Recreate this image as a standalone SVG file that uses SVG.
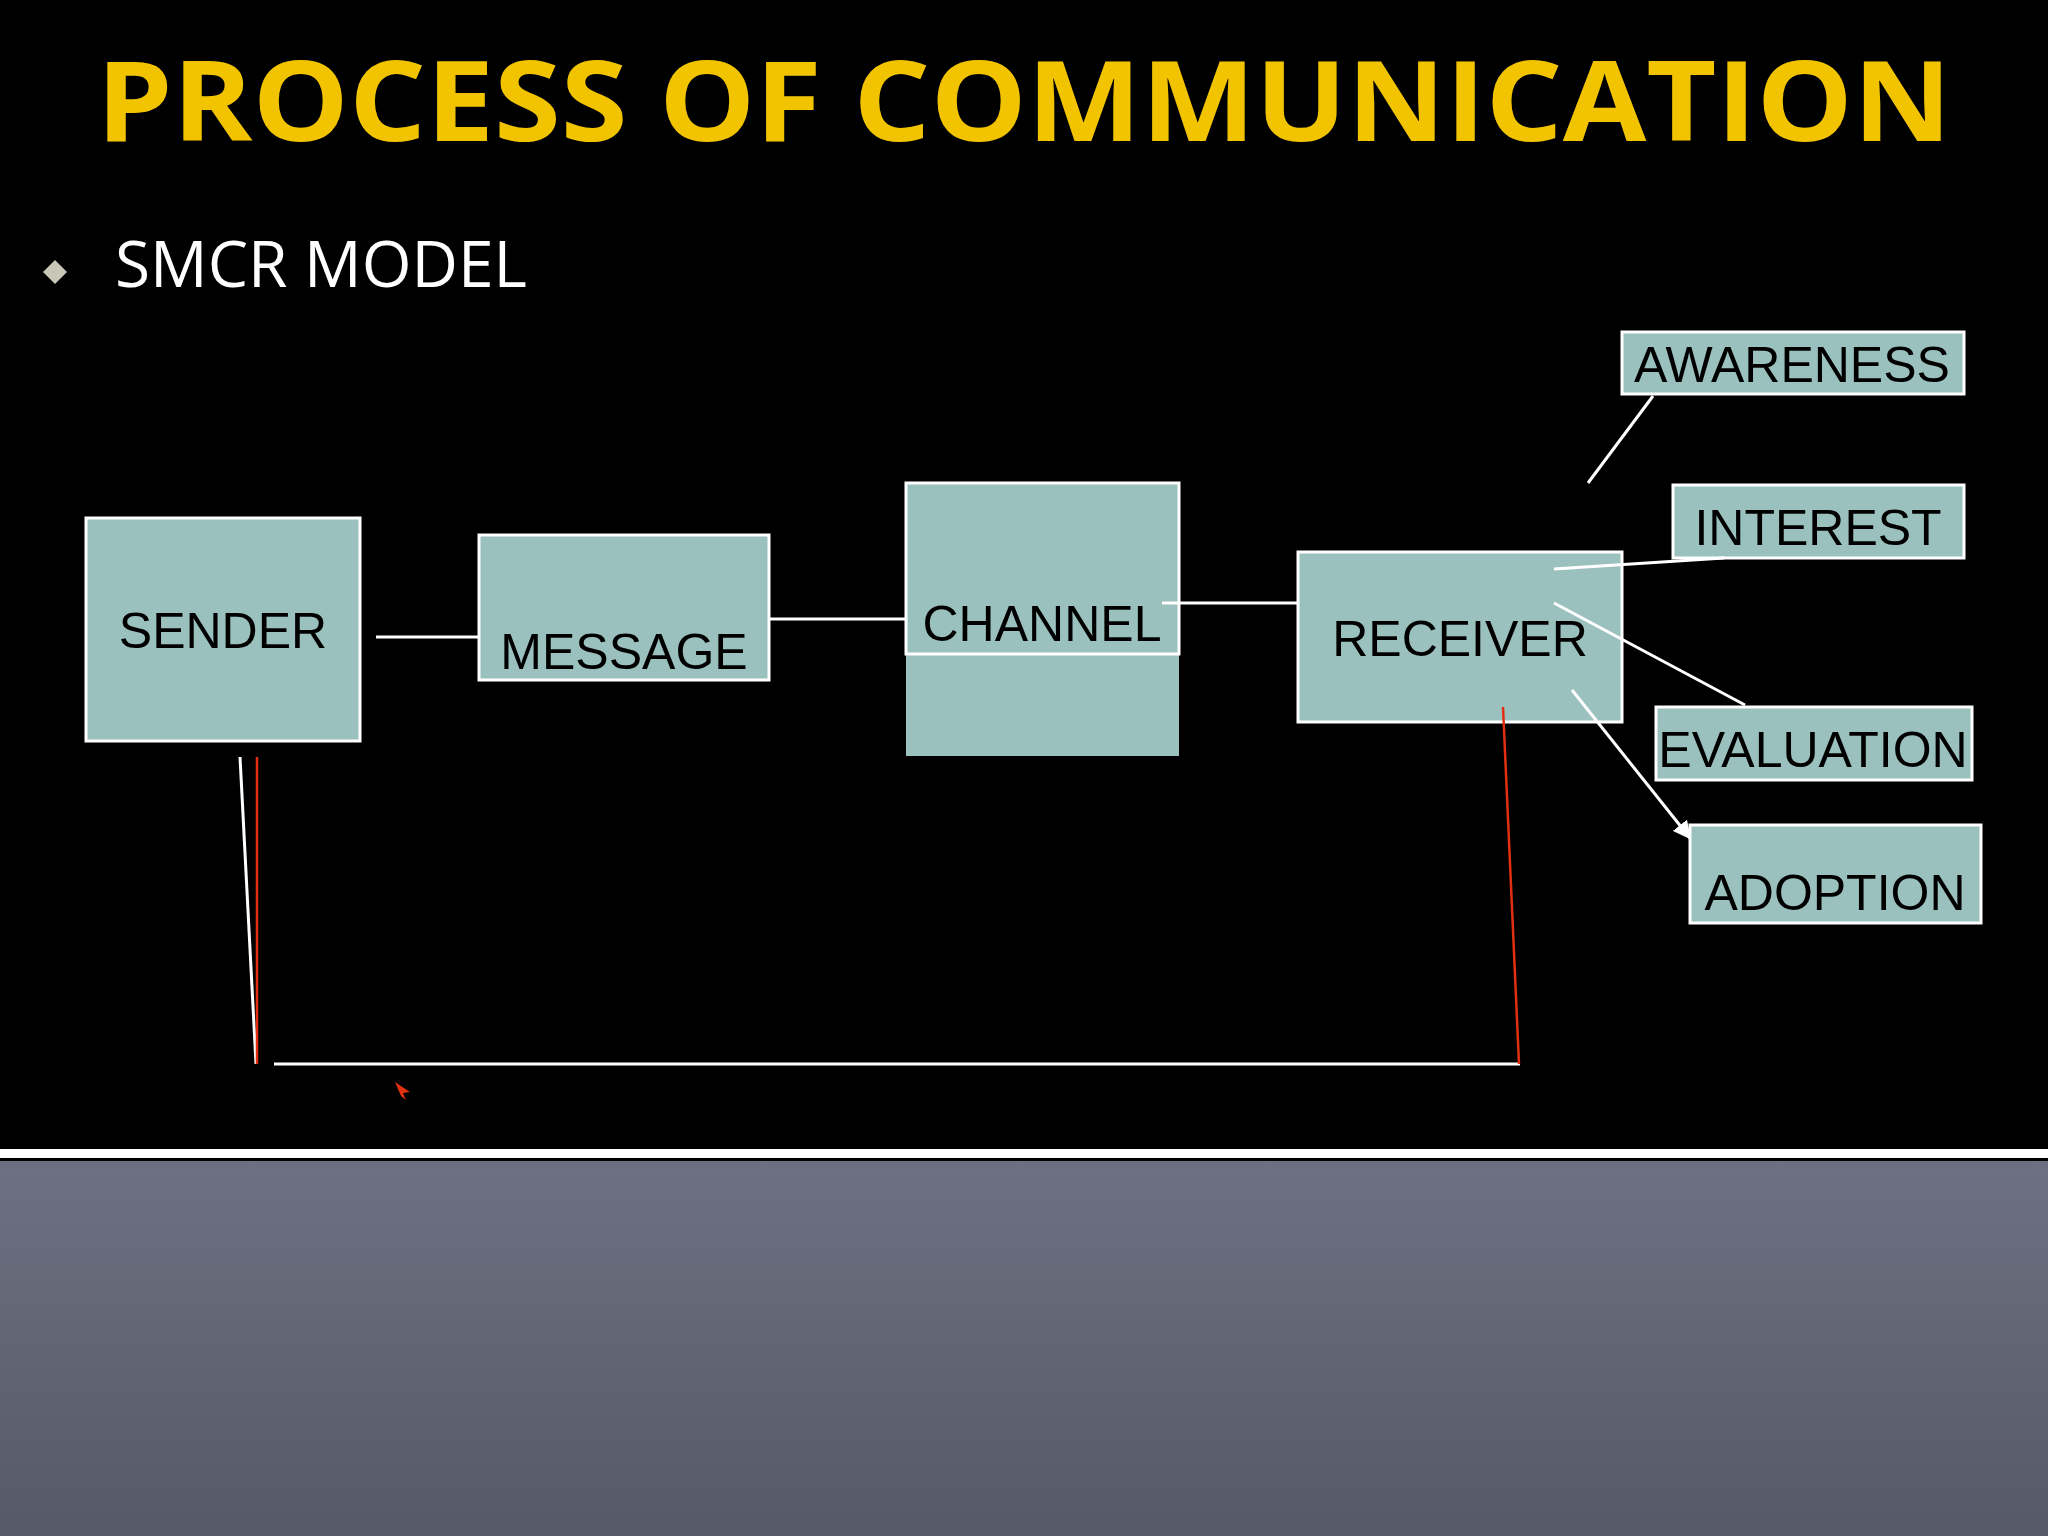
<svg xmlns="http://www.w3.org/2000/svg" width="2048" height="1536" viewBox="0 0 2048 1536">
<defs>
<style>
.box{fill:#9bc1bf;stroke:#ffffff;stroke-width:3}
.lbl{font-family:"Liberation Sans",Arial,sans-serif;font-size:50px;fill:#000;text-anchor:middle}
.ln{stroke:#fff;stroke-width:3;fill:none}
.red{stroke:#e03010;stroke-width:2.5;fill:none}
</style>
<marker id="ah" viewBox="0 0 10 10" refX="9" refY="5" markerWidth="6" markerHeight="6" orient="auto"><path d="M0,0L10,5L0,10z" fill="#fff"/></marker>
<linearGradient id="g" x1="0" y1="0" x2="0" y2="1"><stop offset="0" stop-color="#6d7081"/><stop offset="1" stop-color="#545a67"/></linearGradient>
</defs>
<rect width="2048" height="1536" fill="#000"/>
<rect x="0" y="1149" width="2048" height="9" fill="#fff"/>
<rect x="0" y="1161" width="2048" height="375" fill="url(#g)"/>
<text x="1024" y="141" font-family="'Open Sans','Liberation Sans',sans-serif" font-weight="bold" font-size="112" fill="#f2c400" text-anchor="middle" textLength="1855" lengthAdjust="spacingAndGlyphs">PROCESS OF COMMUNICATION</text>
<path d="M55,260L67,272L55,284L43,272z" fill="#c8c8b8"/>
<text x="115" y="287" font-family="'Open Sans','Liberation Sans',sans-serif" font-size="64" fill="#fff">SMCR MODEL</text>
<g id="sender"><rect class="box" x="86" y="518" width="274" height="223"/><text class="lbl" x="223" y="648">SENDER</text></g>
<g id="message"><rect class="box" x="479" y="535" width="290" height="145"/><text class="lbl" x="624" y="669">MESSAGE</text></g>
<g id="channel"><rect x="906" y="483" width="273" height="273" fill="#9bc1bf"/><rect x="906" y="483" width="273" height="171" fill="none" stroke="#fff" stroke-width="3"/><text class="lbl" x="1042" y="641">CHANNEL</text></g>
<g id="receiver"><rect class="box" x="1298" y="552" width="324" height="170"/><text class="lbl" x="1460" y="656">RECEIVER</text></g>
<g id="awareness"><rect class="box" x="1622" y="332" width="342" height="62"/><text class="lbl" x="1792" y="382">AWARENESS</text></g>
<g id="interest"><rect class="box" x="1673" y="485" width="291" height="73"/><text class="lbl" x="1818" y="545">INTEREST</text></g>
<g id="evaluation"><rect class="box" x="1656" y="707" width="316" height="73"/><text class="lbl" x="1813" y="767">EVALUATION</text></g>
<g id="adoption"><rect class="box" x="1690" y="825" width="291" height="98"/><text class="lbl" x="1835" y="910">ADOPTION</text></g>
<g id="connectors">
<line class="ln" x1="376" y1="637" x2="478" y2="637"/>
<line class="ln" x1="769" y1="619" x2="905" y2="619"/>
<line class="ln" x1="1162" y1="603" x2="1298" y2="603"/>
<line class="ln" x1="1653" y1="396" x2="1588" y2="483"/>
<line class="ln" x1="1554" y1="569" x2="1724" y2="558"/>
<line class="ln" x1="1554" y1="603" x2="1745" y2="705"/>
<line class="ln" x1="1572" y1="690" x2="1690" y2="838" marker-end="url(#ah)"/>
<line class="ln" x1="240" y1="757" x2="256" y2="1064"/>
<line class="red" x1="257" y1="757" x2="257" y2="1064"/>
<line class="ln" x1="274" y1="1064" x2="1520" y2="1064"/>
<line class="red" x1="1503" y1="707" x2="1519" y2="1064"/>
<path d="M395,1082L410,1092L403,1093L406,1100L401,1096z" fill="#e03010"/>
</g>
</svg>
